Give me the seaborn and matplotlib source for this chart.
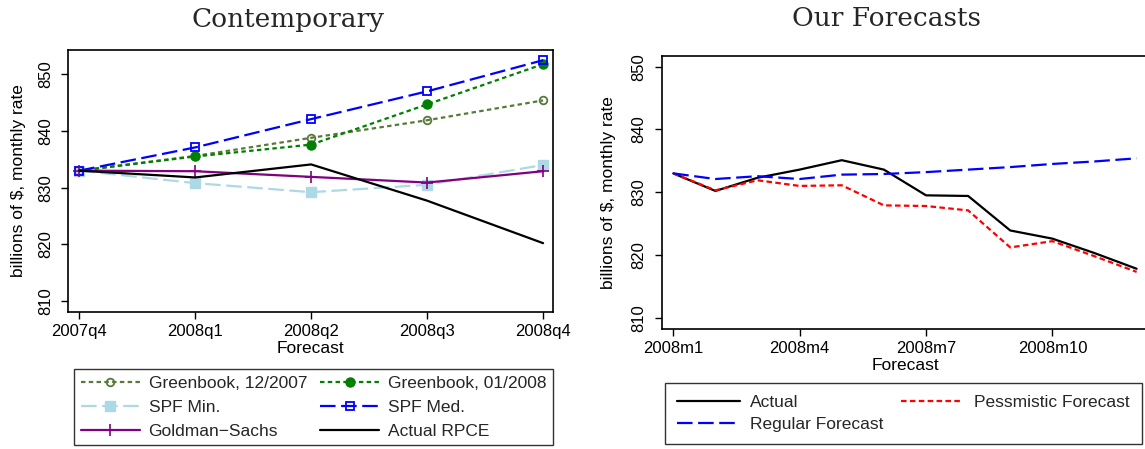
import matplotlib
matplotlib.use("Agg")
import matplotlib.pyplot as plt
import seaborn as sns
import numpy as np
import pandas as pd

# ---- data: contemporary forecasts of real PCE (billions of $, monthly rate)
quarters = ["2007q4", "2008q1", "2008q2", "2008q3", "2008q4"]
greenbook_dec07 = [833.0, 835.6, 838.8, 841.9, 845.4]
greenbook_jan08 = [833.0, 835.5, 837.6, 844.7, 851.8]
spf_min = [833.0, 830.8, 829.2, 830.5, 834.0]
spf_med = [833.0, 837.1, 842.1, 847.0, 852.5]
goldman_sachs = [833.0, 832.9, 831.9, 830.9, 832.9]
actual_rpce = [833.0, 831.8, 834.1, 827.7, 820.2]

# ---- data: our monthly forecasts for 2008
months = ["2008m1", "2008m2", "2008m3", "2008m4", "2008m5", "2008m6",
          "2008m7", "2008m8", "2008m9", "2008m10", "2008m11", "2008m12"]
actual_monthly = [833.0, 830.2, 832.3, 833.6, 835.1, 833.6,
                  829.5, 829.4, 823.9, 822.6, 820.3, 817.8]
regular_forecast = [833.0, 832.1, 832.55, 832.1, 832.8, 832.9,
                    833.2, 833.6, 834.0, 834.5, 834.9, 835.4]
pessimistic_forecast = [833.0, 830.3, 831.9, 831.0, 831.1, 827.9,
                        827.8, 827.1, 821.2, 822.2, 819.8, 817.3]

month_ticks = ["2008m1", "2008m4", "2008m7", "2008m10"]
y_ticks = [810, 820, 830, 840, 850]

sns.set_theme(style="ticks")
plt.rcParams["font.family"] = ["Liberation Sans", "DejaVu Sans"]
plt.rcParams["axes.linewidth"] = 1.2

W, H = 1145, 449
fig = plt.figure(figsize=(W / 100, H / 100), dpi=100)
fig.patch.set_facecolor("white")


def px_axes(x0, y0, x1, y1):
    return fig.add_axes([x0 / W, 1 - y1 / H, (x1 - x0) / W, (y1 - y0) / H])


ax1 = px_axes(68.3, 50.0, 553.3, 311.7)
ax2 = px_axes(661.9, 55.7, 1148.0, 328.7)

LW = 1.6
SHORT = (0, (2.0, 1.5))
LONG = (0, (7.0, 2.5))
TXT = 12.5

qx = np.arange(len(quarters))
left_series = [
    ("Greenbook, 12/2007", greenbook_dec07,
     dict(color="#587a38", linestyle=SHORT, marker="o", markersize=5.5,
          markerfacecolor="none", markeredgecolor="#587a38", markeredgewidth=1.3)),
    ("Greenbook, 01/2008", greenbook_jan08,
     dict(color="#008000", linestyle=SHORT, marker="o", markersize=6.5,
          markerfacecolor="#008000", markeredgecolor="#008000", markeredgewidth=1.0)),
    ("SPF Min.", spf_min,
     dict(color="#add8e6", linestyle=LONG, marker="s", markersize=6.5,
          markerfacecolor="#add8e6", markeredgecolor="#add8e6", markeredgewidth=1.0)),
    ("SPF Med.", spf_med,
     dict(color="#0000ff", linestyle=LONG, marker="s", markersize=5.5,
          markerfacecolor="none", markeredgecolor="#0000ff", markeredgewidth=1.3)),
    ("Goldman\u2212Sachs", goldman_sachs,
     dict(color="#800080", linestyle="-", marker="+", markersize=8,
          markeredgecolor="#800080", markeredgewidth=1.2)),
    ("Actual RPCE", actual_rpce,
     dict(color="black", linestyle="-", marker=None)),
]

left_handles = []
for label, vals, kw in left_series:
    df = pd.DataFrame({"x": qx, "y": vals})
    n0 = len(ax1.get_lines())
    sns.lineplot(data=df, x="x", y="y", ax=ax1, linewidth=LW, label=label,
                 legend=False, sort=False, **kw)
    left_handles.append(ax1.get_lines()[n0])

mx = np.arange(len(months))
right_series = [
    ("Actual", actual_monthly, dict(color="black", linestyle="-")),
    ("Pessmistic Forecast", pessimistic_forecast,
     dict(color="#ff0000", linestyle=(0, (2.5, 1.5)))),
    ("Regular Forecast", regular_forecast, dict(color="#0000ff", linestyle=LONG)),
]
right_handles = []
for label, vals, kw in right_series:
    df = pd.DataFrame({"x": mx, "y": vals})
    n0 = len(ax2.get_lines())
    sns.lineplot(data=df, x="x", y="y", ax=ax2, linewidth=LW, label=label,
                 legend=False, sort=False, **kw)
    right_handles.append(ax2.get_lines()[n0])

# axes styling
for ax in (ax1, ax2):
    for s in ax.spines.values():
        s.set_visible(True)
        s.set_color("black")
        s.set_linewidth(1.2)
    ax.set_yticks(y_ticks)
    ax.set_yticklabels([str(v) for v in y_ticks], rotation=90, va="center")
    ax.tick_params(axis="both", direction="out", length=5, width=1.0,
                   labelsize=12, colors="black")
    ax.tick_params(axis="y", pad=6)
    ax.tick_params(axis="x", pad=4)
    ax.set_ylabel("billions of $, monthly rate", fontsize=TXT, color="black")
    ax.set_xlabel("Forecast", fontsize=TXT, color="black", labelpad=1)
    ax.grid(False)
    ax.set_facecolor("white")

ax1.set_xlim(-0.094, 4.088)
ax1.set_ylim(808.1, 854.3)
ax1.set_xticks(qx)
ax1.set_xticklabels(quarters)
ax1.yaxis.set_label_coords(-0.088, 0.5)

ax2.set_xlim(-0.27, 11.27)
ax2.set_ylim(808.25, 851.75)
ax2.set_xticks([months.index(m) for m in month_ticks])
ax2.set_xticklabels(month_ticks)
ax2.yaxis.set_label_coords(-0.095, 0.5)

# titles
fig.text(288 / W, 1 - 19 / H, "Contemporary", ha="center", va="center",
         fontsize=19, family="DejaVu Serif")
fig.text(886 / W, 1 - 19 / H, "Our Forecasts", ha="center", va="center",
         fontsize=19, family="DejaVu Serif")


def row_major(items, ncol):
    # legend fills columns first; reorder so entries read across rows
    nrow = -(-len(items) // ncol)
    out = []
    for c in range(ncol):
        for r in range(nrow):
            i = r * ncol + c
            if i < len(items):
                out.append(items[i])
    return out


h1 = row_major(left_handles, 2)
l1 = row_major([s[0] for s in left_series], 2)
leg1 = fig.legend(handles=h1, labels=l1,
                  ncol=2, loc="upper left",
                  bbox_to_anchor=(74.3 / W, 1 - 369.3 / H),
                  frameon=True, fancybox=False, shadow=False,
                  edgecolor="black", fontsize=TXT, handlelength=3.4,
                  handletextpad=0.5, columnspacing=0.75, labelspacing=0.5,
                  borderpad=0.38, borderaxespad=0.0)
leg1.get_frame().set_linewidth(1.0)

h2 = row_major(right_handles, 2)
l2 = row_major([s[0] for s in right_series], 2)
leg2 = fig.legend(handles=h2, labels=l2,
                  ncol=2, loc="upper left",
                  bbox_to_anchor=(665 / W, 1 - 383 / H),
                  frameon=True, fancybox=False, shadow=False,
                  edgecolor="black", fontsize=TXT, handlelength=3.6,
                  handletextpad=0.6, columnspacing=1.0, labelspacing=0.36,
                  borderpad=0.7, borderaxespad=0.0)
leg2.get_frame().set_linewidth(1.0)

fig.savefig("out.png", dpi=100, facecolor="white")
